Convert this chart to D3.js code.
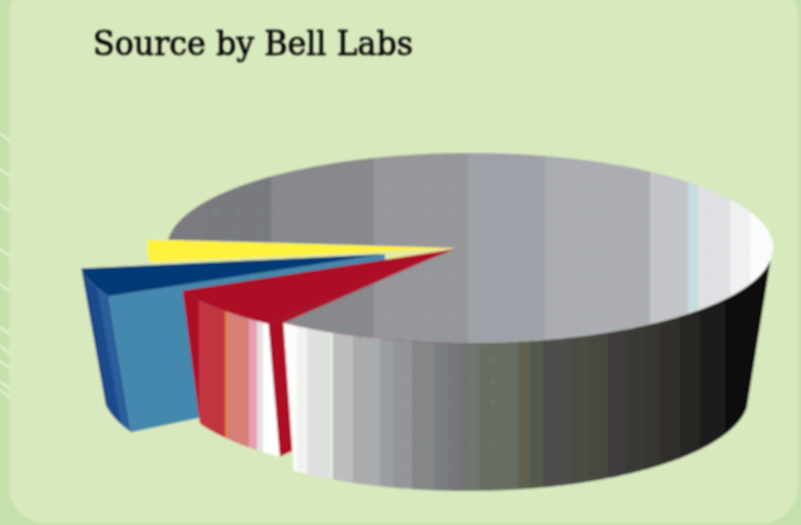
<!DOCTYPE html>
<html>
<head>
    <meta charset="UTF-8">
    <title>Source by Bell Labs</title>
    <style>
        html, body { margin: 0; padding: 0; background: #c6e0ab; }
        svg { display: block; }
        .title { font-family: "DejaVu Serif", serif; font-size: 33px; fill: #000; stroke: #000; stroke-width: 0.6px; }
    </style>
</head>
<body>
<svg width="801" height="525"></svg>
<script src="https://cdn.jsdelivr.net/npm/d3@7"></script>
<script>

    // data
    var title = "Source by Bell Labs";
    var sliceNames = ["rest", "red", "blue", "yellow"];
    var sliceValues = [84.17, 7.22, 4.86, 3.75];
    var edgeMarks = [137, 173, 208, 253, 288, 331, 350, 365, 385, 394];

    // pie geometry
    var cx = 470, cy = 248, rx = 303, ry = 95;
    var hub = {x: 455, y: 248};
    var firstAngle = 185;   // degrees, clockwise from 3 o'clock

    // how each slice is pulled out of the pie
    var sliceLayout = {
        rest:   {dx: 0,   dy: 0,   depth: 148, hubDepth: 148, hubX: 0,   hubY: 0},
        red:    {dx: -15, dy: 1,   depth: 133, hubDepth: 128, hubX: 0,   hubY: 1},
        blue:   {dx: -89, dy: 6.5, depth: 136, hubDepth: 124, hubX: -70, hubY: 6},
        yellow: {dx: -20, dy: 0,   depth: 7,   hubDepth: 7,   hubX: 0,   hubY: 0}
    };

    // hard colour bands, [right edge in px, colour]
    var topBands = [[205, "#7b7a80"], [271, "#787a7e"], [374, "#88898c"], [468, "#96979b"], [545, "#9ea1a8"],
        [650, "#abadb3"], [688, "#c3c4c8"], [698, "#c5dde0"], [730, "#e0dfe3"], [750, "#eff0f0"], [780, "#fafcfb"]];
    var wallBands = [[297, "#fbfdfa"], [307, "#f1f3f0"], [330, "#e0dfe0"], [333, "#dfeeda"], [353, "#bcbdbe"], [380, "#aaabad"],
        [393, "#9b9ea2"], [412, "#94959a"], [435, "#848688"], [448, "#7a7d81"], [461, "#76767c"], [480, "#707470"],
        [518, "#686d64"], [530, "#5e6150"], [543, "#515a4e"], [570, "#4f4d4c"], [580, "#4b4b44"], [588, "#485040"],
        [608, "#464840"], [625, "#3f3b3e"], [645, "#383a36"], [660, "#363632"], [680, "#302e2a"], [700, "#282824"],
        [725, "#1e1e1c"], [780, "#111110"]];
    var redBands = [[199, "#ae0a26"], [225, "#c23540"], [227, "#e08020"], [249, "#d87f7a"], [257, "#e2a0b0"],
        [263, "#e8e0e0"], [290, "#ffffff"]];
    var blueWallBands = [[96, "#0c3d7e"], [106, "#1b4c8d"], [116, "#2c5f9b"], [140, "#38699f"]];

    var svg = d3.select("svg");
    var defs = svg.append("defs");

    // anything under 0.8 does nothing in the browser
    defs.append("filter").attr("id", "soft")
        .attr("filterUnits", "userSpaceOnUse")
        .attr("x", 0).attr("y", 0)
        .attr("width", 801).attr("height", 525)
        .append("feGaussianBlur").attr("stdDeviation", 0.8);

    function bandGradient(id, bands, x0, tilt) {
        var x1 = bands[bands.length - 1][0];
        var offset = d3.scaleLinear().domain([x0, x1]).range([0, 1]);
        var g = defs.append("linearGradient").attr("id", id)
            .attr("gradientUnits", "userSpaceOnUse")
            .attr("x1", x0).attr("y1", 0)
            .attr("x2", x1).attr("y2", 0);
        if (tilt) g.attr("gradientTransform", "rotate(" + tilt + " " + x0 + " 340)");
        var from = x0;
        bands.forEach(function (b) {
            g.append("stop").attr("offset", offset(from)).attr("stop-color", b[1]);
            g.append("stop").attr("offset", offset(b[0])).attr("stop-color", b[1]);
            from = b[0];
        });
    }
    bandGradient("topFill", topBands, 160);
    bandGradient("wallFill", wallBands, 280);
    bandGradient("redFill", redBands, 180);
    bandGradient("blueFill", blueWallBands, 82, -10);

    // the faint dither dots on the grey
    var dots = defs.append("pattern").attr("id", "dots")
        .attr("patternUnits", "userSpaceOnUse")
        .attr("width", 21.33).attr("height", 21.33);
    dots.append("circle").attr("cx", 2.7).attr("cy", 18.7).attr("r", 0.9).attr("fill", "#a9cfa5").attr("opacity", 0.4);

    var chart = svg.append("g").attr("filter", "url(#soft)");

    chart.append("rect").attr("x", 9).attr("y", -20).attr("width", 789).attr("height", 543)
        .attr("rx", 36).attr("ry", 36).attr("fill", "#d8e9bd");

    chart.selectAll(".mark").data(edgeMarks).enter().append("line")
        .attr("class", "mark")
        .attr("x1", 0).attr("x2", 9)
        .attr("y1", function (d) { return d - 4; })
        .attr("y2", function (d) { return d + 3; })
        .attr("stroke", "#fbfdf6").attr("stroke-width", 1.3);

    // slices, angles clockwise from 3 o'clock in radians
    var pie = d3.pie().sort(null)
        .startAngle(firstAngle * Math.PI / 180)
        .endAngle((firstAngle + 360) * Math.PI / 180);
    var arcs = pie(sliceValues);
    var slices = {};
    arcs.forEach(function (a, i) { slices[sliceNames[i]] = a; });

    var line = d3.line().x(function (p) { return p.x; }).y(function (p) { return p.y; });

    function rim(name, t) {
        var s = sliceLayout[name];
        return {x: cx + rx * Math.cos(t) + s.dx, y: cy + ry * Math.sin(t) + s.dy};
    }

    // the walls lean in a little towards the bottom
    function drop(p, depth) {
        return {x: p.x + (430 - p.x) * 0.07, y: p.y + depth};
    }

    function rimPoints(name, t0, t1) {
        var n = Math.max(2, Math.ceil(Math.abs(t1 - t0) / 0.01));
        return d3.range(n + 1).map(function (i) {
            return rim(name, t0 + (t1 - t0) * i / n);
        });
    }

    function hubOf(name) {
        var s = sliceLayout[name];
        return {x: hub.x + s.hubX, y: hub.y + s.hubY};
    }

    function topFace(name, fill) {
        var a = slices[name];
        var pts = [hubOf(name)].concat(rimPoints(name, a.startAngle, a.endAngle));
        chart.append("path").attr("d", line(pts) + "Z").attr("fill", fill);
    }

    function outerWall(name, t0, t1, fill) {
        var depth = sliceLayout[name].depth;
        var up = rimPoints(name, t0, t1);
        var down = up.map(function (p) { return drop(p, depth); }).reverse();
        chart.append("path").attr("d", line(up.concat(down)) + "Z").attr("fill", fill);
    }

    function radialFace(name, t, fill) {
        var s = sliceLayout[name];
        var outer = rim(name, t), inner = hubOf(name);
        var pts = [inner, outer, drop(outer, s.depth), drop(inner, s.hubDepth)];
        chart.append("path").attr("d", line(pts) + "Z").attr("fill", fill);
    }

    // back to front
    radialFace("yellow", slices.yellow.startAngle, "#e6eca0");
    topFace("yellow", "#fff23c");

    outerWall("blue", slices.blue.startAngle, slices.blue.endAngle, "url(#blueFill)");
    radialFace("blue", slices.blue.startAngle, "#4488ad");
    topFace("blue", "#003a78");

    radialFace("red", slices.red.startAngle, "#ae0a26");

    var wallEnd = slices.rest.endAngle - 2 * Math.PI;
    topFace("rest", "url(#topFill)");
    topFace("rest", "url(#dots)");
    outerWall("rest", 7 * Math.PI / 180, wallEnd, "url(#wallFill)");
    // dots only show up on the lighter part of the wall
    outerWall("rest", 85 * Math.PI / 180, wallEnd, "url(#dots)");

    outerWall("red", slices.red.startAngle, slices.red.endAngle, "url(#redFill)");
    topFace("red", "#ae0a26");

    svg.append("text").attr("class", "title")
        .attr("filter", "url(#soft)")
        .attr("x", 93).attr("y", 55)
        .attr("textLength", 320).attr("lengthAdjust", "spacingAndGlyphs")
        .text(title);

</script>
</body>
</html>
